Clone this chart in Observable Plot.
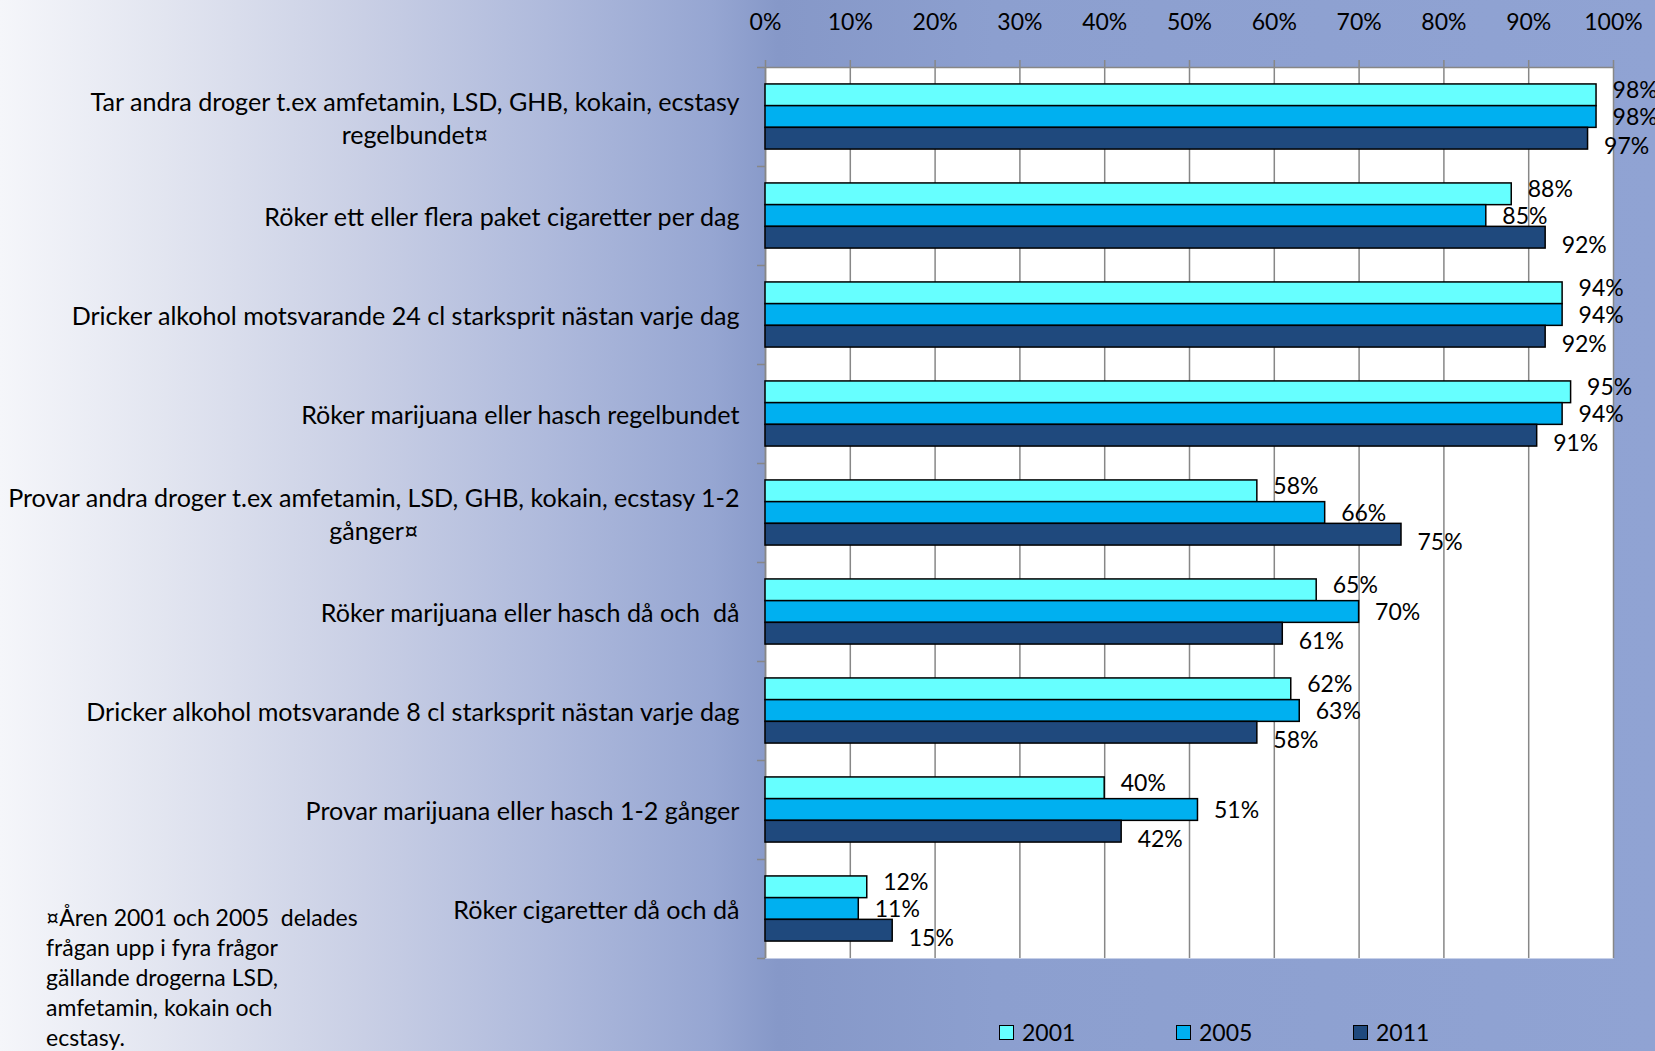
<!DOCTYPE html>
<html>
<head>
<meta charset="utf-8">
<script src="https://cdn.jsdelivr.net/npm/d3@7"></script>
<script src="https://cdn.jsdelivr.net/npm/@observablehq/plot@0.6"></script>
<style>
  html, body { margin: 0; padding: 0; width: 1655px; height: 1051px; overflow: hidden; }
  body {
    font-family: Lato, "Open Sans", sans-serif;
    background: linear-gradient(to right, #f5f6fa 0%, #e2e5f0 10%, #c9cfe5 22%, #afbadc 33%, #96a6d2 43%, #8698c8 47%, #8c9fcf 60%, #90a3d3 100%);
  }
  #wrap { position: relative; width: 1655px; height: 1051px; }
  #chart { position: absolute; left: 0; top: 0; }
  #legend { position: absolute; left: 999px; top: 1018px; display: flex; font-size: 23px; color: #000; }
  #legend .item { width: 177px; display: flex; align-items: center; }
  #legend .sw { width: 13px; height: 13px; border: 1.5px solid #000; margin-right: 8px; }
  #note { position: absolute; left: 46px; top: 902px; font-size: 23px; line-height: 30px; white-space: pre; color: #000; }
</style>
</head>
<body>
<div id="wrap">
  <div id="chart"></div>
  <div id="note"></div>
  <div id="legend"></div>
</div>
<script>
// ---- data ----
const categories = [
  "Tar andra droger t.ex amfetamin, LSD, GHB, kokain, ecstasy\nregelbundet¤",
  "Röker ett eller flera paket cigaretter per dag",
  "Dricker alkohol motsvarande 24 cl starksprit nästan varje dag",
  "Röker marijuana eller hasch regelbundet",
  "Provar andra droger t.ex amfetamin, LSD, GHB, kokain, ecstasy 1-2\ngånger¤",
  "Röker marijuana eller hasch då och  då",
  "Dricker alkohol motsvarande 8 cl starksprit nästan varje dag",
  "Provar marijuana eller hasch 1-2 gånger",
  "Röker cigaretter då och då"
];
const years = ["2001", "2005", "2011"];
const values2001 = [98, 88, 94, 95, 58, 65, 62, 40, 12];
const values2005 = [98, 85, 94, 94, 66, 70, 63, 51, 11];
const values2011 = [97, 92, 92, 91, 75, 61, 58, 42, 15];
const xTicks = [0, 10, 20, 30, 40, 50, 60, 70, 80, 90, 100];
const footnote = "¤Åren 2001 och 2005  delades\nfrågan upp i fyra frågor\ngällande drogerna LSD,\namfetamin, kokain och\necstasy.";

// ---- styles ----
const colors = ["#66FFFF", "#00B0F0", "#1F497D"];
const labelDy = {"2001": -5, "2005": 1, "2011": 8};
const gridColor = "#878787";

const series = {"2001": values2001, "2005": values2005, "2011": values2011};
const rows = [];
categories.forEach((c, i) => years.forEach(y => rows.push({cat: c, i, year: y, value: series[y][i]})));

// position of each year's bar inside a category band (band height = 1 unit)
const inner = d3.scaleBand().domain(years).range([0, 1]).paddingInner(0).paddingOuter(0.78);
const bw = inner.bandwidth();

const H = 1000;
const plot = Plot.plot({
  width: 1655,
  height: H,
  marginLeft: 765,
  marginRight: 42,
  marginTop: 67,
  marginBottom: H - 958,
  style: {background: "transparent", fontFamily: "Lato, 'Open Sans', sans-serif", color: "#000", overflow: "visible"},
  x: {domain: [0, 100]},
  y: {domain: [0, categories.length], reverse: true},
  color: {domain: years, range: colors},
  marks: [
    Plot.frame({fill: "white", stroke: "none"}),
    Plot.gridX({ticks: xTicks, stroke: gridColor, strokeOpacity: 1, strokeWidth: 1.5}),
    Plot.ruleY([0], {stroke: gridColor, strokeWidth: 1.5}),
    Plot.ruleX([0], {stroke: gridColor, strokeWidth: 1.5}),
    Plot.axisX({anchor: "top", ticks: xTicks, tickFormat: d => d + "%", tickSize: 8, tickPadding: 30,
      fontSize: 23, stroke: gridColor, strokeWidth: 1.5, fill: "#000", label: null}),
    Plot.axisY({anchor: "left", ticks: d3.range(0, categories.length + 1), tickFormat: () => "",
      tickSize: 8, stroke: gridColor, strokeWidth: 1.5, label: null}),
    Plot.rect(rows, {
      x1: 0, x2: "value",
      y1: d => d.i + inner(d.year),
      y2: d => d.i + inner(d.year) + bw,
      fill: "year", stroke: "#000", strokeWidth: 1.5
    }),
    ...years.map(yr => Plot.text(rows.filter(d => d.year === yr), {
      x: "value",
      y: d => d.i + inner(d.year) + bw / 2,
      text: d => d.value + "%",
      textAnchor: "start", dx: 16, dy: labelDy[yr],
      fontSize: 23, fill: "#000"
    })),
    Plot.text(categories, {
      x: 0, y: (d, i) => i + 0.5, text: d => d,
      textAnchor: "end", dx: -26, lineAnchor: "middle", lineHeight: 1.3,
      fontSize: 25.1, fill: "#000"
    })
  ]
});
document.getElementById("chart").appendChild(plot);

// center the continuation line of two-line category labels under the first line
plot.querySelectorAll("text").forEach(t => {
  const ts = t.querySelectorAll("tspan");
  if (ts.length === 2) {
    const w = ts[0].getComputedTextLength();
    ts[1].setAttribute("x", -w / 2);
    ts[1].setAttribute("text-anchor", "middle");
  }
});

document.getElementById("note").textContent = footnote;
const legend = document.getElementById("legend");
years.forEach((y, k) => {
  const item = document.createElement("div");
  item.className = "item";
  const sw = document.createElement("span");
  sw.className = "sw";
  sw.style.background = colors[k];
  const lab = document.createElement("span");
  lab.textContent = y;
  item.appendChild(sw);
  item.appendChild(lab);
  legend.appendChild(item);
});
</script>
</body>
</html>
